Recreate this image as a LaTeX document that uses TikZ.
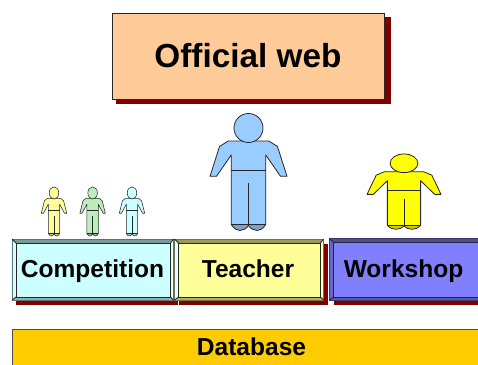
\documentclass[tikz,border=0pt]{standalone}
\usepackage{fontspec}
\setmainfont{Liberation Sans}
\definecolor{shadowred}{HTML}{800000}
\definecolor{webfill}{HTML}{FFCC99}
\definecolor{dbfill}{HTML}{FFCC00}
\definecolor{compface}{HTML}{CCFFFF}
\definecolor{teachface}{HTML}{FFFF99}
\definecolor{workface}{HTML}{8080FF}
\definecolor{teachperson}{HTML}{99CCFF}
\definecolor{workperson}{HTML}{FFFF00}
\definecolor{pyellow}{HTML}{FFFF99}
\definecolor{pgreen}{HTML}{BBEEBB}
\definecolor{pcyan}{HTML}{CCFFFF}
\newcommand{\bevelbox}[9]{% name x0 y0 x1 y1 face text labelx leftcolour
  \fill[shadowred] (#2+4,#3+5) rectangle (#4+4.5,#5+5);
  \fill[#6] (#2,#3) rectangle (#4,#5);
  \fill[#6!60!black] (#2,#3) -- (#4,#3) -- (#4-3,#3+4) -- (#2+4,#3+4) -- cycle;
  \fill[#9] (#2,#3) -- (#2+4,#3+4) -- (#2+4,#5-3) -- (#2,#5) -- cycle;
  \fill[#6!60!white] (#4,#3) -- (#4-3,#3+4) -- (#4-3,#5-3) -- (#4,#5) -- cycle;
  \fill[#6!70!black] (#2,#5) -- (#2+4,#5-3) -- (#4-3,#5-3) -- (#4,#5) -- cycle;
  \draw[bevelline,draw=#6!45!black] (#2,#3) rectangle (#4,#5);
  \draw[bevelline] (#2+4,#3+4) rectangle (#4-3,#5-3);
  \draw[bevelline] (#2,#3) -- (#2+4,#3+4) (#4,#3) -- (#4-3,#3+4) (#2,#5) -- (#2+4,#5-3) (#4,#5) -- (#4-3,#5-3);
  \node[lbl] (#1) at (#8,277.7) {#7};
}
\newcommand{\person}[6]{% cx feet sx sy fill lw
  \begin{scope}[shift={(#1,#2)},xscale=#3,yscale=#4,line width=#6,draw=black!85,line join=round]
    \fill[#5!80!black] (-17.3,-6) .. controls (-14,-1.5) and (-12,0) .. (-8.5,0) .. controls (-5,0) and (-2,-2) .. (0,-5) .. controls (2,-2) and (5,0) .. (8.5,0) .. controls (12,0) and (14,-1.5) .. (17.3,-6) -- cycle;
    \draw (-17.3,-6) .. controls (-14,-1.5) and (-12,0) .. (-8.5,0) .. controls (-5,0) and (-2,-2) .. (0,-5) .. controls (2,-2) and (5,0) .. (8.5,0) .. controls (12,0) and (14,-1.5) .. (17.3,-6);
    \draw[fill=#5] (-20.3,-89.5) -- (20.3,-89.5) -- (29,-84) -- (38.5,-54.2) -- (32,-54.2) -- (17.3,-75.5) -- (17.3,-6) -- (-17.3,-6) -- (-17.3,-75.5) -- (-32,-54.2) -- (-38.5,-54.2) -- (-29,-84) -- cycle;
    \draw (-17.3,-60.5) -- (17.3,-60.5) (0,-47.5) -- (0,-5);
    \draw[fill=#5] (0,-102.5) ellipse [x radius=14.5,y radius=14.5];
  \end{scope}
}
\begin{document}
\begin{tikzpicture}[x=0.75pt,y=-0.75pt,
  lbl/.style={font=\bfseries\fontsize{18.4}{20}\selectfont,text=black,inner sep=0pt,anchor=base},
  bevelline/.style={draw=black!85,line width=0.6pt}]
\useasboundingbox (0,0) rectangle (478,364);
\clip (0,0) rectangle (478,364);
% Official web
\fill[shadowred] (116,17) rectangle (390.5,104);
\node[draw=black!85,fill=webfill,line width=0.75pt,minimum width=204.5pt,minimum height=64.5pt,inner sep=0pt] (web) at (248.5,56) {};
\node[anchor=base,inner sep=0pt,font=\bfseries\fontsize{25}{28}\selectfont] (weblabel) at (248,67.2) {Official web};
% Bevel boxes
\bevelbox{workshop}{329.5}{238.5}{482}{300}{workface}{Workshop}{403.5}{workface!80!black}
\bevelbox{competition}{12}{239}{173.5}{300}{compface}{Competition}{92.5}{compface!75!white}
\bevelbox{teacher}{174.5}{239}{323.5}{300}{teachface}{Teacher}{248}{compface!50!white}
% Database
\node[draw=black!70,fill=dbfill,line width=0.7pt,minimum width=352pt,minimum height=28pt,inner sep=0pt,anchor=north west] (db) at (12,329) {};
\node[lbl] (dblabel) at (251.5,355.5) {Database};
% Figures
\person{248.5}{230.5}{1}{1}{teachperson}{0.6pt}
\person{404}{229.3}{.96}{.644}{workperson}{0.6pt}
\person{54}{236}{.33}{.42}{pyellow}{0.4pt}
\person{92.6}{236}{.33}{.42}{pgreen}{0.4pt}
\person{132}{236}{.33}{.42}{pcyan}{0.4pt}
\end{tikzpicture}
\end{document}
